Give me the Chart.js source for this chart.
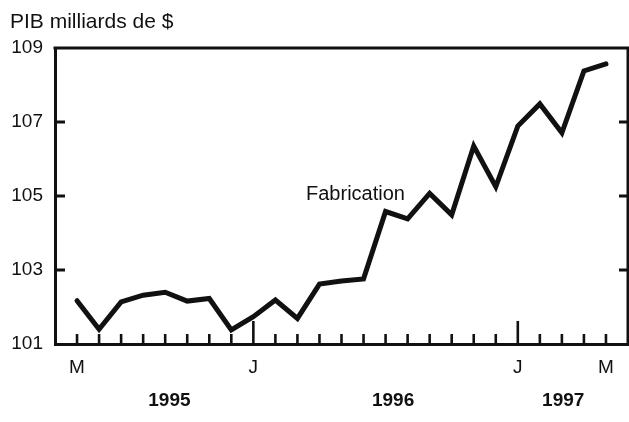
<!DOCTYPE html>
<html>
<head>
<meta charset="utf-8">
<script src="https://cdn.jsdelivr.net/npm/chart.js@4.4.1/dist/chart.umd.min.js"></script>
<style>
  html, body { margin: 0; padding: 0; background: #fff; }
  #wrap { width: 629px; height: 422px; position: relative; }
</style>
</head>
<body>
<div id="wrap"><canvas id="c" width="629" height="422"></canvas></div>
<script>
// Months: May 1995 .. May 1997 (index 0..24)
const monthLabels = ['M','','','','','','','','J','','','','','','','','','','','','J','','','','M'];
const manufacturingGDP = [
  102.17, 101.40, 102.14, 102.32, 102.40, 102.16, 102.23, 101.38,
  101.74, 102.19, 101.69, 102.62, 102.70, 102.76, 104.58, 104.38,
  105.07, 104.49, 106.35, 105.25, 106.89, 107.49, 106.71, 108.38, 108.57
];
const majorTickIdx = [8, 20];
const yTickValues = [103, 105, 107];
const yearLabels = ['1995', '1996', '1997'];
const yearPositions = [4.19, 14.34, 22.06];
const seriesLabel = 'Fabrication';
const seriesLabelPos = [10.39, 104.89];
const titleText = 'PIB milliards de $';

const INK = '#111';
const FONT = 'Liberation Sans, Arial, Helvetica, sans-serif';

const framePlugin = {
  id: 'frame',
  afterDraw(chart) {
    const ctx = chart.ctx;
    const a = chart.chartArea;
    const xs = chart.scales.x, ys = chart.scales.y;
    ctx.save();
    ctx.strokeStyle = INK;
    ctx.lineCap = 'butt';
    // top and right border
    ctx.lineWidth = 3;
    ctx.beginPath();
    ctx.moveTo(a.left - 1.5, a.top);
    ctx.lineTo(a.right, a.top);
    ctx.lineTo(a.right, a.bottom);
    ctx.stroke();
    // x tick marks (inward)
    ctx.lineWidth = 2.6;
    monthLabels.forEach((_, i) => {
      const x = xs.getPixelForValue(i);
      const len = majorTickIdx.includes(i) ? 23 : 10;
      ctx.beginPath();
      ctx.moveTo(x, a.bottom);
      ctx.lineTo(x, a.bottom - len);
      ctx.stroke();
    });
    // y tick marks (inward both sides)
    ctx.lineWidth = 3;
    yTickValues.forEach(v => {
      const y = ys.getPixelForValue(v);
      ctx.beginPath();
      ctx.moveTo(a.left, y); ctx.lineTo(a.left + 10, y);
      ctx.moveTo(a.right, y); ctx.lineTo(a.right - 9, y);
      ctx.stroke();
    });
    // year labels
    ctx.fillStyle = INK;
    ctx.font = 'bold 19px ' + FONT;
    ctx.textAlign = 'center';
    ctx.textBaseline = 'middle';
    yearLabels.forEach((t, i) => {
      ctx.fillText(t, xs.getPixelForValue(yearPositions[i]), 401);
    });
    // series label
    ctx.font = '20px ' + FONT;
    ctx.textAlign = 'left';
    ctx.textBaseline = 'alphabetic';
    ctx.fillText(seriesLabel, xs.getPixelForValue(seriesLabelPos[0]), ys.getPixelForValue(seriesLabelPos[1]));
    ctx.restore();
  }
};

new Chart(document.getElementById('c'), {
  type: 'line',
  data: {
    datasets: [{
      label: seriesLabel,
      data: manufacturingGDP.map((v, i) => ({ x: i, y: v })),
      borderColor: INK,
      borderWidth: 5,
      borderJoinStyle: 'miter',
      borderCapStyle: 'round',
      pointRadius: 0,
      tension: 0,
      fill: false
    }]
  },
  options: {
    responsive: false,
    animation: false,
    devicePixelRatio: 1,
    layout: { padding: { left: 10, right: 1, top: 0, bottom: 0 } },
    plugins: {
      legend: { display: false },
      tooltip: { enabled: false },
      title: {
        display: true,
        text: titleText,
        align: 'start',
        color: INK,
        font: { family: FONT, size: 21, weight: 'normal', lineHeight: 1.2 },
        padding: { top: 10, bottom: 12.8 }
      }
    },
    scales: {
      x: {
        type: 'linear',
        min: -1,
        max: 25,
        grid: { display: false, drawTicks: false },
        border: { display: true, color: INK, width: 3 },
        ticks: {
          stepSize: 1,
          autoSkip: false,
          maxRotation: 0,
          padding: 12,
          color: INK,
          font: { family: FONT, size: 19 },
          callback: (v) => (Number.isInteger(v) && v >= 0 && v < monthLabels.length) ? monthLabels[v] : ''
        },
        afterFit(s) { s.height = 78; s.paddingLeft = 0; s.paddingRight = 0; }
      },
      y: {
        min: 101,
        max: 109,
        grid: { display: false, drawTicks: false },
        border: { display: true, color: INK, width: 3 },
        ticks: {
          stepSize: 2,
          padding: 12,
          color: INK,
          font: { family: FONT, size: 19 }
        },
        afterFit(s) { s.width = 45; s.paddingTop = 0; s.paddingBottom = 0; }
      }
    }
  },
  plugins: [framePlugin]
});
</script>
</body>
</html>
